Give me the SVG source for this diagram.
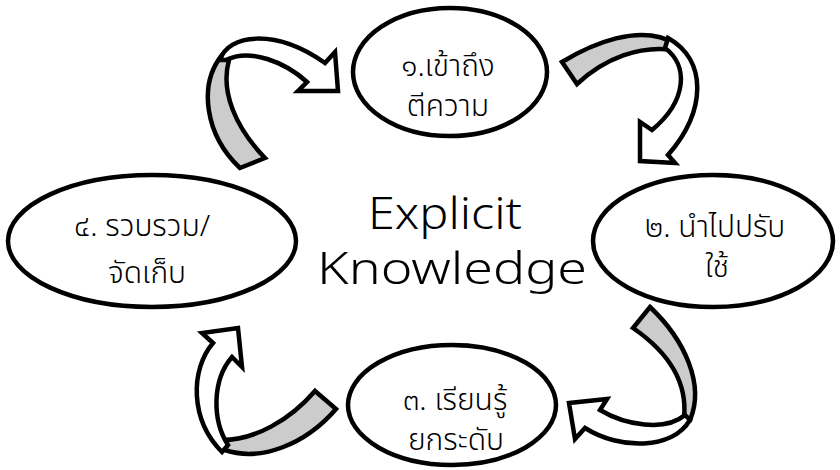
<svg xmlns="http://www.w3.org/2000/svg" width="840" height="470" viewBox="0 0 840 470">
<style>
.node ellipse{fill:#fff;stroke:#000;stroke-width:4.5}
.t{font-family:"Noto Sans Thai","Noto Sans","DejaVu Sans",sans-serif;font-size:30px;font-weight:300;fill:#000;text-anchor:middle}
.big{font-family:"Noto Sans","DejaVu Sans",sans-serif;font-size:44px;font-weight:300;fill:#000;text-anchor:middle}
.band{fill:#cccccc;stroke:#000;stroke-width:4.5;stroke-linejoin:miter}
.head{fill:#fff;stroke:#000;stroke-width:4.5;stroke-linejoin:miter}
</style>
<rect width="840" height="470" fill="#fff"/>
<g id="connectors">
  <g id="arrow-4-1">
    <path class="band" d="M222,55 C198,85 205,135 240,168 L265,158 C236,128 220,92 229,60 Z"/>
    <path class="head" d="M220,60 C228,34 275,28 325,63 L335,52 L338,91 L298,91 L307,82 C285,62 250,48 226,60 Z"/>
  </g>
  <g id="arrow-1-2">
    <path class="band" d="M562,62 C590,45 640,22 676,44 L674,50 C640,45 605,58 577,84 Z"/>
    <path class="head" d="M668,38 C707,60 707,110 668,155 L675,163 L640,161 L640,122 L652,130 C688,100 688,65 665,48 Z"/>
  </g>
  <g id="arrow-2-3">
    <path class="band" d="M650,307 C685,340 705,385 690,420 L684,418 C688,380 665,350 633,328 Z"/>
    <path class="head" d="M690,420 C672,450 620,450 585,428 L575,439 L569,403 L607,399 L600,410 C625,425 665,432 685,415 Z"/>
  </g>
  <g id="arrow-3-4">
    <path class="band" d="M315,391 L336,409 C305,445 260,462 225,450 L222,440 C255,440 290,420 315,391 Z"/>
    <path class="head" d="M222,452 C190,420 190,370 213,343 L202,333 L238,328 L242,367 L232,357 C212,380 212,420 228,445 Z"/>
  </g>
</g>
<g id="node-1" class="node">
  <ellipse cx="450" cy="72" rx="97" ry="64"/>
  <text class="t" x="448" y="76">๑.เข้าถึง</text>
  <text class="t" x="448" y="116">ตีความ</text>
</g>
<g id="node-2" class="node">
  <ellipse cx="713" cy="241" rx="120" ry="66"/>
  <text class="t" x="715" y="237">๒. นำไปปรับ</text>
  <text class="t" x="717" y="277">ใช้</text>
</g>
<g id="node-3" class="node">
  <ellipse cx="452" cy="405" rx="104" ry="60"/>
  <text class="t" x="455" y="410">๓. เรียนรู้</text>
  <text class="t" x="456" y="450">ยกระดับ</text>
</g>
<g id="node-4" class="node">
  <ellipse cx="152" cy="241" rx="144" ry="66"/>
  <text class="t" x="142" y="236">๔. รวบรวม/</text>
  <text class="t" x="147" y="283">จัดเก็บ</text>
</g>
<g id="center">
  <text class="big" x="445" y="229" textLength="154" lengthAdjust="spacingAndGlyphs">Explicit</text>
  <text class="big" x="452" y="284" textLength="270" lengthAdjust="spacingAndGlyphs">Knowledge</text>
</g>
</svg>
